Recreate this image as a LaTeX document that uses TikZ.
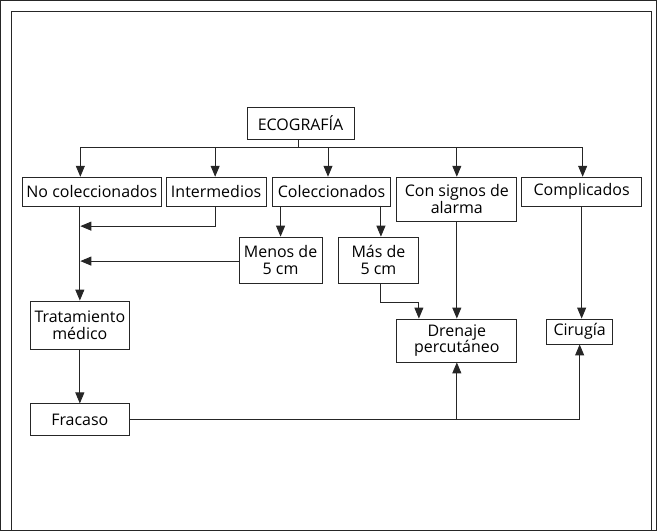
\documentclass[tikz,border=0pt]{standalone}
\usepackage{fontspec}
\setmainfont{Open Sans}
\usetikzlibrary{arrows.meta}
\begin{document}
\begin{tikzpicture}[x=1pt,y=-1pt,
    box/.style={draw,line width=0.9pt,inner sep=0pt,align=center,font=\fontsize{16}{16.5}\selectfont},
    arr/.style={-{Triangle[length=11pt,width=9pt]}},
    every path/.style={line width=0.9pt,draw=black!85}]
    \useasboundingbox (0,0) rectangle (657,531);
    \draw (11,531) -- (11,11) -- (652,11) -- (652,531);
    \node[box,minimum width=107pt,minimum height=32pt] (eco) at (300.5,123) {ECOGRAFÍA};
    \node[box,minimum width=139pt,minimum height=29pt] (nocol) at (91.5,191.5) {No coleccionados};
    \node[box,minimum width=100pt,minimum height=29pt] (inter) at (216,191.5) {Intermedios};
    \node[box,minimum width=119pt,minimum height=29pt] (colec) at (331.5,191.5) {Coleccionados};
    \node[box,minimum width=120pt,minimum height=44pt] (signos) at (457,199) {Con signos de\\alarma};
    \node[box,minimum width=120pt,minimum height=29pt] (compl) at (582,191.5) {Complicados};
    \node[box,minimum width=83pt,minimum height=46pt] (menos) at (280.5,260) {Menos de\\5 cm};
    \node[box,minimum width=81pt,minimum height=46pt] (mas) at (378.5,260) {Más de\\5 cm};
    \node[box,minimum width=99pt,minimum height=48pt] (trat) at (79.5,325) {Tratamiento\\médico};
    \node[box,minimum width=99pt,minimum height=32pt] (fracaso) at (79.5,420) {Fracaso};
    \node[box,minimum width=120pt,minimum height=43pt] (drenaje) at (457,340.5) {Drenaje\\percutáneo};
    \node[box,minimum width=66pt,minimum height=25pt] (cirugia) at (580,331.5) {Cirugía};
    \coordinate (busl) at (80,147);
    \coordinate (busr) at (583,147);
    \coordinate (ja) at (80,226);
    \coordinate (jb) at (80,261);
    \coordinate (mk) at (419,302);
    \draw (eco.south -| 298,0) -- (298,147);
    \draw (busl) -- (busr);
    \foreach \x/\n in {80/nocol,215/inter,328/colec,457/signos,583/compl}
        \draw[arr] (\x,147) -- (\n.north -| \x,0);
    \draw[arr] (inter.south -| 215,0) |- (ja);
    \draw[arr] (menos.west |- jb) -- (jb);
    \draw[arr] (menos.north |- colec.south) -- (menos.north);
    \draw[arr] (mas.north -| 381,0) ++(0,-31) -- (mas.north -| 381,0);
    \draw[arr] (nocol.south -| trat.north) -- (trat.north);
    \draw[arr] (trat) -- (fracaso);
    \draw[arr] (mas.south -| 381,0) |- (mk) -- (mk |- drenaje.north);
    \draw[arr] (signos) -- (drenaje);
    \draw[arr] (compl.south) -- (compl.south |- cirugia.north);
    \draw[arr] (fracaso.east) -| (drenaje.south);
    \draw[arr] (fracaso.east) -| (cirugia.south);
\end{tikzpicture}
\end{document}
